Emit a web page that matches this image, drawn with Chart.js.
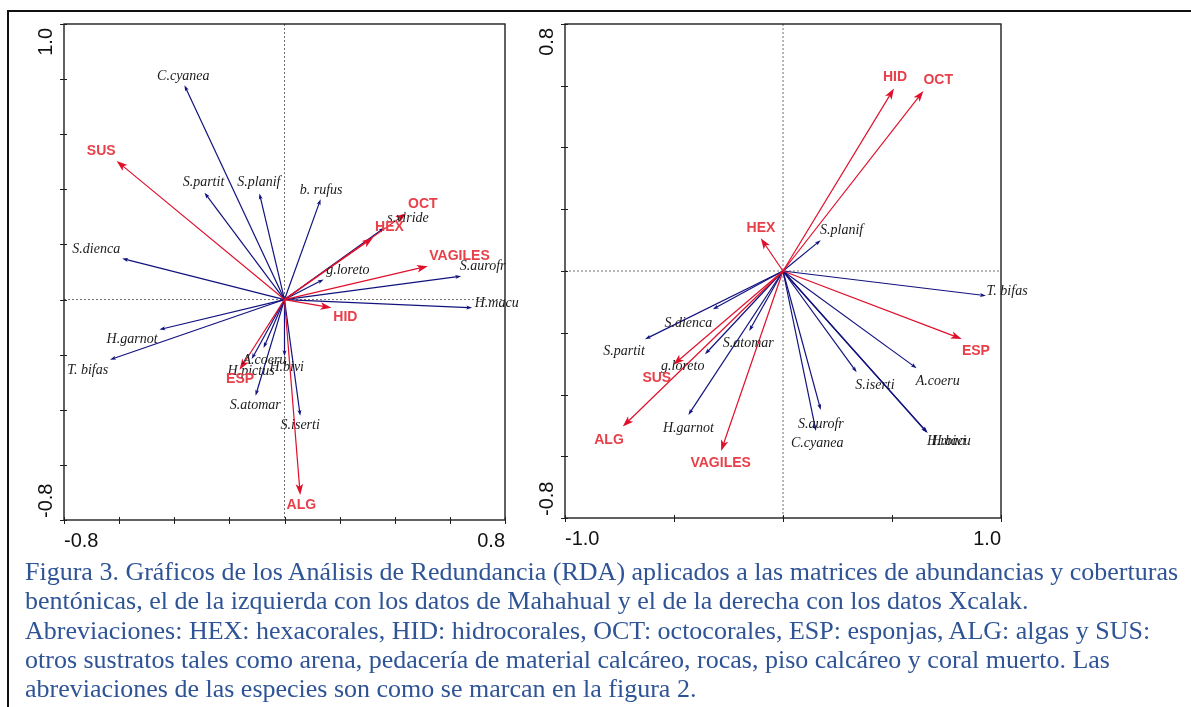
<!DOCTYPE html>
<html lang="es">
<head>
  <meta charset="UTF-8">
  <title>Figura 3 - RDA Mahahual y Xcalak</title>

  <!-- Chart.js para los gráficos -->
  <script src="https://cdn.jsdelivr.net/npm/chart.js"></script>

  <style>
    body {
      margin: 0;
      background: #fff;
      width: 1191px;
      height: 707px;
      position: relative;
      overflow: hidden;
    }

    /* Marco de la figura (solo arriba y a la izquierda) */
    #marco {
      position: absolute;
      left: 7px;
      top: 10px;
      right: 0;
      bottom: 0;
      border-left: 2px solid #111;
      border-top: 2px solid #111;
    }

    #graficoMah { position: absolute; left: 0; top: 0; }
    #graficoXca { position: absolute; left: 525px; top: 0; }

    /* Pie de figura */
    #pie {
      position: absolute;
      left: 25px;
      top: 557px;
      font-family: "Liberation Serif", "Times New Roman", serif;
      font-size: 26px;
      line-height: 29.3px;
      color: #2F5496;
      white-space: nowrap;
    }
  </style>
</head>
<body>

  <div id="marco"></div>
  <canvas id="graficoMah" width="545" height="560"></canvas>
  <canvas id="graficoXca" width="666" height="560"></canvas>

  <div id="pie">
    Figura 3. Gráficos de los Análisis de Redundancia (RDA) aplicados a las matrices de abundancias y coberturas<br>
    bentónicas, el de la izquierda con los datos de Mahahual y el de la derecha con los datos Xcalak.<br>
    Abreviaciones: HEX: hexacorales, HID: hidrocorales, OCT: octocorales, ESP: esponjas, ALG: algas y SUS:<br>
    otros sustratos tales como arena, pedacería de material calcáreo, rocas, piso calcáreo y coral muerto. Las<br>
    abreviaciones de las especies son como se marcan en la figura 2.
  </div>

  <script>
    // ---------- Mahahual (izquierda) ----------
    const especiesMah = ['C.cyanea', 'S.partit', 'S.planif', 'b. rufus', 's.viride', 'S.dienca', 'g.loreto', 'S.aurofr',
                         'H.macu', 'H.garnot', 'T. bifas', 'A.coeru', 'H.pictus', 'H.bivi', 'S.atomar', 'S.iserti'];
    const espXMah = [-0.363, -0.290, -0.091, 0.131, 0.363, -0.589, 0.142, 0.641, 0.681, -0.454, -0.633, -0.119, -0.076, 0.000, -0.105, 0.057];
    const espYMah = [0.778, 0.388, 0.385, 0.364, 0.261, 0.149, 0.073, 0.085, -0.030, -0.109, -0.218, -0.216, -0.176, -0.206, -0.349, -0.422];
    // posición de las etiquetas (unidades de los ejes)
    const espEtqXMah = [-0.367, -0.294, -0.093, 0.133, 0.448, -0.683, 0.230, 0.719, 0.770, -0.553, -0.714, -0.073, -0.121, 0.008, -0.106, 0.057];
    const espEtqYMah = [0.811, 0.425, 0.425, 0.397, 0.295, 0.182, 0.105, 0.120, -0.012, -0.145, -0.255, -0.222, -0.261, -0.245, -0.385, -0.455];

    const variablesMah = ['SUS', 'OCT', 'HEX', 'VAGILES', 'HID', 'ESP', 'ALG'];
    const varXMah = [-0.609, 0.442, 0.321, 0.520, 0.170, -0.163, 0.057];
    const varYMah = [0.503, 0.313, 0.224, 0.121, -0.030, -0.255, -0.709];
    const varEtqXMah = [-0.665, 0.502, 0.381, 0.635, 0.221, -0.161, 0.061];
    const varEtqYMah = [0.539, 0.345, 0.261, 0.157, -0.063, -0.288, -0.745];

    const ticksXMah = [-0.8, -0.6, -0.4, -0.2, 0, 0.2, 0.4, 0.6, 0.8];
    const ticksYMah = [-0.8, -0.6, -0.4, -0.2, 0, 0.2, 0.4, 0.6, 0.8, 1.0];
    const etqEjeXMah = ['-0.8', '0.8'];
    const etqEjeYMah = ['-0.8', '1.0'];

    // ---------- Xcalak (derecha) ----------
    const especiesXca = ['S.planif', 'T. bifas', 'S.dienca', 'S.partit', 'S.atomar', 'g.loreto', 'H.garnot', 'S.aurofr',
                         'C.cyanea', 'S.iserti', 'A.coeru', 'H.bivi', 'H.macu'];
    const espXXca = [0.173, 0.931, -0.322, -0.633, -0.155, -0.358, -0.434, 0.173, 0.151, 0.338, 0.613, 0.659, 0.664];
    const espYXca = [0.100, -0.080, -0.124, -0.221, -0.194, -0.270, -0.466, -0.450, -0.518, -0.328, -0.315, -0.522, -0.525];
    const espEtqXXca = [0.269, 1.028, -0.434, -0.729, -0.159, -0.460, -0.434, 0.174, 0.157, 0.422, 0.710, 0.761, 0.761];
    const espEtqYXca = [0.133, -0.065, -0.169, -0.261, -0.234, -0.310, -0.509, -0.495, -0.558, -0.369, -0.358, -0.553, -0.553];

    const variablesXca = ['HID', 'OCT', 'HEX', 'ESP', 'SUS', 'ALG', 'VAGILES'];
    const varXXca = [0.509, 0.644, -0.102, 0.820, -0.503, -0.735, -0.284];
    const varYXca = [0.591, 0.583, 0.106, -0.220, -0.304, -0.504, -0.583];
    const varEtqXXca = [0.514, 0.712, -0.101, 0.885, -0.579, -0.798, -0.286];
    const varEtqYXca = [0.629, 0.618, 0.138, -0.259, -0.347, -0.547, -0.622];

    const ticksXXca = [-1.0, -0.5, 0, 0.5, 1.0];
    const ticksYXca = [-0.8, -0.6, -0.4, -0.2, 0, 0.2, 0.4, 0.6, 0.8];
    const etqEjeXXca = ['-1.0', '1.0'];
    const etqEjeYXca = ['-0.8', '0.8'];

    const AZUL = '#12127e';
    const ROJO = '#e0102c';
    const ROJO_TEXTO = '#e8404a';

    function flecha(ctx, x0, y0, x1, y1, color, largo, ancho) {
      const ang = Math.atan2(y1 - y0, x1 - x0);
      ctx.strokeStyle = color;
      ctx.fillStyle = color;
      ctx.lineWidth = 1.2;
      ctx.beginPath();
      ctx.moveTo(x0, y0);
      ctx.lineTo(x1 - Math.cos(ang) * largo * 0.6, y1 - Math.sin(ang) * largo * 0.6);
      ctx.stroke();
      ctx.save();
      ctx.translate(x1, y1);
      ctx.rotate(ang);
      ctx.beginPath();
      ctx.moveTo(0, 0);
      ctx.lineTo(-largo, -ancho);
      ctx.lineTo(-largo * 0.75, 0);
      ctx.lineTo(-largo, ancho);
      ctx.closePath();
      ctx.fill();
      ctx.restore();
    }

    // Plugin que dibuja marco, ejes en cero, flechas y etiquetas del biplot
    const biplot = {
      id: 'biplot',
      beforeDatasetsDraw(chart, args, o) {
        const ctx = chart.ctx, a = chart.chartArea;
        const sx = chart.scales.x, sy = chart.scales.y;
        const x0 = sx.getPixelForValue(0), y0 = sy.getPixelForValue(0);
        ctx.save();
        ctx.strokeStyle = '#6f6f6f';
        ctx.lineWidth = 1;
        ctx.setLineDash([2, 2]);
        ctx.beginPath();
        ctx.moveTo(a.left, y0); ctx.lineTo(a.right, y0);
        ctx.moveTo(x0, a.top); ctx.lineTo(x0, a.bottom);
        ctx.stroke();
        ctx.setLineDash([]);

        // marco
        ctx.strokeStyle = '#1e1e1e';
        ctx.lineWidth = 1.4;
        ctx.strokeRect(a.left, a.top, a.right - a.left, a.bottom - a.top);

        // marcas de los ejes
        ctx.lineWidth = 1;
        ctx.beginPath();
        o.ticksX.forEach(v => {
          const px = Math.round(sx.getPixelForValue(v)) + 0.5;
          ctx.moveTo(px, a.bottom - 3); ctx.lineTo(px, a.bottom + 4);
        });
        o.ticksY.forEach(v => {
          const py = Math.round(sy.getPixelForValue(v)) + 0.5;
          ctx.moveTo(a.left - 4, py); ctx.lineTo(a.left + 3, py);
        });
        ctx.stroke();

        // etiquetas de los extremos
        ctx.fillStyle = '#111';
        ctx.font = '20px "Liberation Sans", Arial, sans-serif';
        ctx.textBaseline = 'middle';
        ctx.textAlign = 'left';
        ctx.fillText(o.ejeX[0], a.left, a.bottom + 21);
        ctx.textAlign = 'right';
        ctx.fillText(o.ejeX[1], a.right, a.bottom + 21);

        ctx.save();
        ctx.translate(a.left - 18, a.bottom - 2);
        ctx.rotate(-Math.PI / 2);
        ctx.textAlign = 'left';
        ctx.fillText(o.ejeY[0], 0, 0);
        ctx.restore();
        ctx.save();
        ctx.translate(a.left - 18, a.top + 4);
        ctx.rotate(-Math.PI / 2);
        ctx.textAlign = 'right';
        ctx.fillText(o.ejeY[1], 0, 0);
        ctx.restore();
        ctx.restore();
      },
      afterDatasetsDraw(chart, args, o) {
        const ctx = chart.ctx;
        const sx = chart.scales.x, sy = chart.scales.y;
        const x0 = sx.getPixelForValue(0), y0 = sy.getPixelForValue(0);
        ctx.save();
        chart.data.datasets.forEach((ds, i) => {
          const meta = chart.getDatasetMeta(i);
          const esVar = ds.tipo === 'var';
          meta.data.forEach(pt => {
            if (esVar) flecha(ctx, x0, y0, pt.x, pt.y, ROJO, 11, 3.8);
            else flecha(ctx, x0, y0, pt.x, pt.y, AZUL, 6, 2);
          });
        });

        ctx.textAlign = 'center';
        ctx.textBaseline = 'middle';
        ctx.font = 'italic 14px "Liberation Serif", "Times New Roman", serif';
        ctx.fillStyle = '#1a1a1a';
        o.especies.forEach((n, i) => {
          ctx.fillText(n, sx.getPixelForValue(o.espEtqX[i]), sy.getPixelForValue(o.espEtqY[i]));
        });
        ctx.font = 'bold 14px "Liberation Sans", Arial, sans-serif';
        ctx.fillStyle = ROJO_TEXTO;
        o.variables.forEach((n, i) => {
          ctx.fillText(n, sx.getPixelForValue(o.varEtqX[i]), sy.getPixelForValue(o.varEtqY[i]));
        });
        ctx.restore();
      }
    };

    function crearBiplot(id, cfg) {
      const ctx = document.getElementById(id).getContext('2d');
      return new Chart(ctx, {
        type: 'scatter',
        data: {
          datasets: [
            {
              label: 'Especies',
              tipo: 'esp',
              data: cfg.espX.map((x, i) => ({ x: x, y: cfg.espY[i] })),
              pointRadius: 0,
              borderColor: AZUL
            },
            {
              label: 'Variables',
              tipo: 'var',
              data: cfg.varX.map((x, i) => ({ x: x, y: cfg.varY[i] })),
              pointRadius: 0,
              borderColor: ROJO
            }
          ]
        },
        options: {
          responsive: false,
          animation: false,
          devicePixelRatio: 1,
          layout: { autoPadding: false, padding: cfg.padding },
          scales: {
            x: { type: 'linear', display: false, min: cfg.xMin, max: cfg.xMax },
            y: { type: 'linear', display: false, min: cfg.yMin, max: cfg.yMax }
          },
          plugins: {
            legend: { display: false },
            tooltip: { enabled: false },
            biplot: {
              especies: cfg.especies, espEtqX: cfg.espEtqX, espEtqY: cfg.espEtqY,
              variables: cfg.variables, varEtqX: cfg.varEtqX, varEtqY: cfg.varEtqY,
              ticksX: cfg.ticksX, ticksY: cfg.ticksY, ejeX: cfg.ejeX, ejeY: cfg.ejeY
            }
          }
        },
        plugins: [biplot]
      });
    }

    crearBiplot('graficoMah', {
      especies: especiesMah, espX: espXMah, espY: espYMah, espEtqX: espEtqXMah, espEtqY: espEtqYMah,
      variables: variablesMah, varX: varXMah, varY: varYMah, varEtqX: varEtqXMah, varEtqY: varEtqYMah,
      ticksX: ticksXMah, ticksY: ticksYMah, ejeX: etqEjeXMah, ejeY: etqEjeYMah,
      xMin: -0.8, xMax: 0.8, yMin: -0.8, yMax: 1.0,
      padding: { left: 64, right: 40, top: 24, bottom: 40 }
    });

    crearBiplot('graficoXca', {
      especies: especiesXca, espX: espXXca, espY: espYXca, espEtqX: espEtqXXca, espEtqY: espEtqYXca,
      variables: variablesXca, varX: varXXca, varY: varYXca, varEtqX: varEtqXXca, varEtqY: varEtqYXca,
      ticksX: ticksXXca, ticksY: ticksYXca, ejeX: etqEjeXXca, ejeY: etqEjeYXca,
      xMin: -1.0, xMax: 1.0, yMin: -0.8, yMax: 0.8,
      padding: { left: 40, right: 190, top: 24, bottom: 42 }
    });
  </script>
</body>
</html>
